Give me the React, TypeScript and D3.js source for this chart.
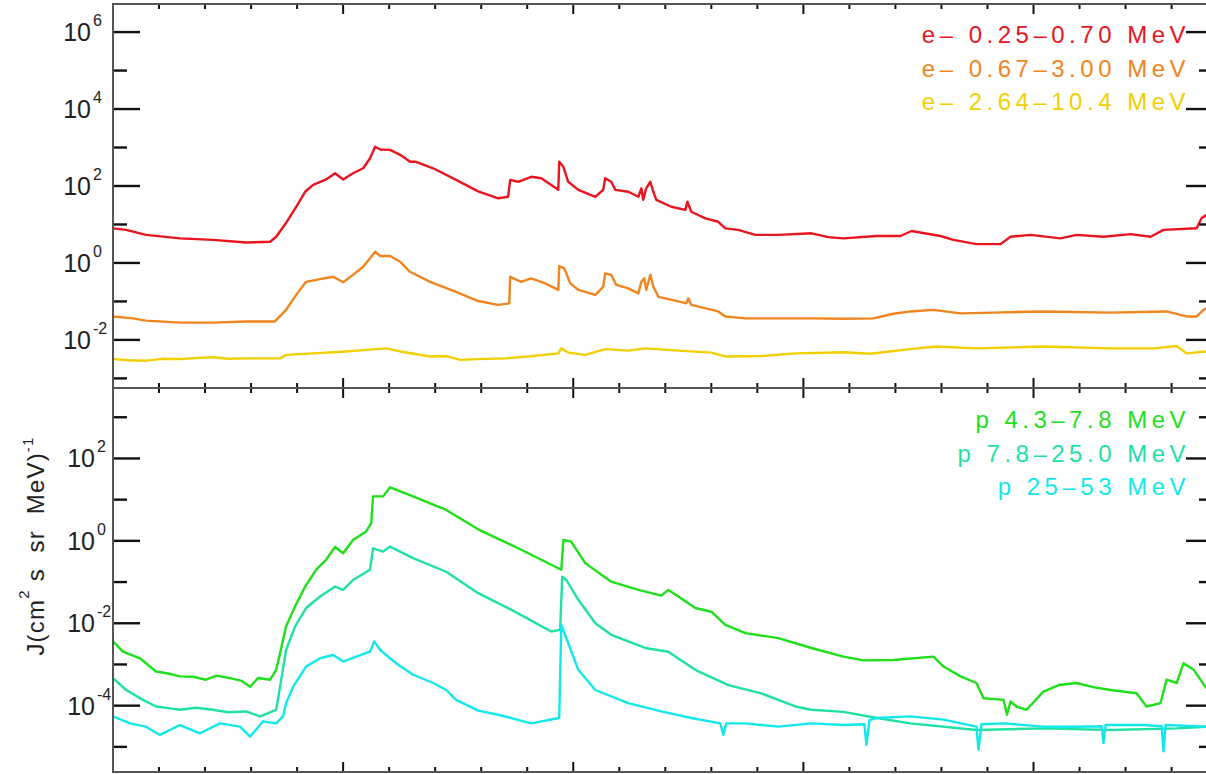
import React, { useRef, useEffect } from 'react';
import * as d3 from 'd3';

// each point: [days since plot start, log10 J]
const eLow: [number, number][] = [
  [0, 0.9], [0.057, 0.86], [0.143, 0.73], [0.291, 0.64], [0.435, 0.6], [0.578, 0.53], [0.683, 0.55],
  [0.709, 0.68], [0.752, 1.04], [0.796, 1.46], [0.835, 1.85], [0.87, 2.03], [0.926, 2.17], [0.965, 2.33],
  [1.0, 2.17], [1.043, 2.33], [1.087, 2.46], [1.117, 2.72], [1.139, 3.02], [1.161, 2.95], [1.204, 2.94],
  [1.248, 2.81], [1.291, 2.63], [1.317, 2.63], [1.391, 2.46], [1.491, 2.16], [1.587, 1.86], [1.674, 1.68],
  [1.717, 1.72], [1.726, 2.16], [1.761, 2.11], [1.817, 2.24], [1.861, 2.2], [1.935, 1.9], [1.939, 2.63],
  [1.957, 2.5], [1.978, 2.11], [2.022, 1.9], [2.096, 1.72], [2.13, 1.9], [2.139, 2.2], [2.165, 2.11],
  [2.183, 1.9], [2.239, 1.85], [2.283, 1.72], [2.296, 1.94], [2.304, 1.64], [2.317, 1.94], [2.335, 2.11],
  [2.348, 1.85], [2.361, 1.64], [2.426, 1.46], [2.487, 1.38], [2.496, 1.59], [2.513, 1.33], [2.574, 1.16],
  [2.63, 1.07], [2.661, 0.9], [2.717, 0.86], [2.791, 0.73], [2.891, 0.73], [3.035, 0.77], [3.109, 0.67],
  [3.174, 0.64], [3.317, 0.7], [3.422, 0.7], [3.47, 0.83], [3.596, 0.7], [3.652, 0.6], [3.752, 0.49],
  [3.857, 0.49], [3.9, 0.68], [3.987, 0.73], [4.117, 0.64], [4.187, 0.73], [4.304, 0.68], [4.422, 0.75],
  [4.509, 0.68], [4.565, 0.86], [4.709, 0.9], [4.73, 1.16], [4.752, 1.25],
];

const eMid: [number, number][] = [
  [0, -1.39], [0.087, -1.44], [0.143, -1.5], [0.291, -1.55], [0.435, -1.55], [0.578, -1.52], [0.704, -1.52],
  [0.752, -1.22], [0.796, -0.83], [0.839, -0.49], [0.9, -0.42], [0.957, -0.36], [1.0, -0.5], [1.043, -0.31],
  [1.087, -0.1], [1.117, 0.12], [1.139, 0.29], [1.161, 0.18], [1.204, 0.18], [1.248, 0.03], [1.291, -0.23],
  [1.378, -0.49], [1.491, -0.75], [1.587, -0.99], [1.674, -1.09], [1.722, -1.05], [1.726, -0.36],
  [1.774, -0.49], [1.817, -0.4], [1.878, -0.53], [1.935, -0.7], [1.939, -0.08], [1.961, -0.14],
  [1.987, -0.53], [2.022, -0.7], [2.096, -0.83], [2.13, -0.62], [2.139, -0.27], [2.165, -0.31],
  [2.187, -0.57], [2.239, -0.66], [2.283, -0.79], [2.296, -0.49], [2.309, -0.4], [2.317, -0.7],
  [2.335, -0.31], [2.348, -0.62], [2.37, -0.88], [2.457, -1.0], [2.491, -1.05], [2.5, -0.92], [2.513, -1.09],
  [2.63, -1.26], [2.661, -1.39], [2.748, -1.44], [2.891, -1.44], [3.035, -1.44], [3.174, -1.45],
  [3.304, -1.44], [3.391, -1.32], [3.465, -1.26], [3.565, -1.22], [3.683, -1.31], [3.826, -1.29],
  [4.043, -1.26], [4.335, -1.29], [4.578, -1.26], [4.665, -1.39], [4.709, -1.39], [4.739, -1.22], [4.752, -1.17],
];

const eHigh: [number, number][] = [
  [0, -2.5], [0.07, -2.53], [0.143, -2.54], [0.22, -2.49], [0.291, -2.5], [0.36, -2.47], [0.435, -2.45],
  [0.5, -2.49], [0.578, -2.48], [0.726, -2.48], [0.752, -2.39], [0.87, -2.35], [1.013, -2.3], [1.1, -2.26],
  [1.187, -2.22], [1.248, -2.3], [1.378, -2.43], [1.448, -2.42], [1.509, -2.52], [1.587, -2.5], [1.704, -2.48],
  [1.804, -2.43], [1.935, -2.35], [1.948, -2.22], [1.978, -2.33], [2.052, -2.39], [2.139, -2.24],
  [2.239, -2.28], [2.313, -2.22], [2.457, -2.28], [2.6, -2.33], [2.661, -2.43], [2.817, -2.42],
  [2.965, -2.35], [3.174, -2.32], [3.291, -2.36], [3.465, -2.24], [3.578, -2.17], [3.752, -2.22],
  [4.043, -2.17], [4.335, -2.22], [4.522, -2.22], [4.622, -2.16], [4.665, -2.35], [4.752, -2.3],
];

const pLow: [number, number][] = [
  [0, -2.44], [0.043, -2.69], [0.117, -2.85], [0.187, -3.17], [0.24, -3.22], [0.291, -3.29], [0.35, -3.3],
  [0.404, -3.37], [0.45, -3.27], [0.509, -3.33], [0.56, -3.4], [0.596, -3.54], [0.63, -3.33], [0.683, -3.37],
  [0.709, -3.13], [0.726, -2.73], [0.752, -2.08], [0.791, -1.59], [0.835, -1.11], [0.883, -0.7],
  [0.926, -0.46], [0.965, -0.15], [1.0, -0.3], [1.043, 0.02], [1.1, 0.23], [1.122, 0.43], [1.13, 1.08],
  [1.174, 1.08], [1.204, 1.3], [1.304, 1.08], [1.448, 0.75], [1.587, 0.28], [1.761, -0.18], [1.948, -0.7],
  [1.957, 0.02], [1.991, -0.02], [2.052, -0.54], [2.165, -0.99], [2.283, -1.19], [2.383, -1.33],
  [2.413, -1.19], [2.457, -1.35], [2.53, -1.63], [2.6, -1.72], [2.661, -2.04], [2.748, -2.24],
  [2.891, -2.36], [3.035, -2.6], [3.174, -2.81], [3.261, -2.9], [3.391, -2.89], [3.565, -2.81],
  [3.609, -3.05], [3.683, -3.29], [3.752, -3.45], [3.783, -3.82], [3.87, -3.86], [3.885, -4.22],
  [3.9, -3.9], [3.926, -4.02], [3.97, -4.1], [4.043, -3.66], [4.11, -3.5], [4.187, -3.45], [4.26, -3.55],
  [4.335, -3.62], [4.448, -3.7], [4.491, -4.02], [4.552, -3.94], [4.578, -3.37], [4.622, -3.45],
  [4.652, -2.97], [4.696, -3.13], [4.752, -3.58],
];

const pMid: [number, number][] = [
  [0, -3.33], [0.057, -3.62], [0.13, -3.86], [0.187, -4.02], [0.24, -4.06], [0.291, -4.1], [0.36, -4.05],
  [0.435, -4.1], [0.5, -4.16], [0.578, -4.14], [0.639, -4.26], [0.709, -4.1], [0.726, -3.54], [0.752, -2.65],
  [0.791, -2.08], [0.839, -1.63], [0.9, -1.35], [0.965, -1.11], [1.0, -1.19], [1.043, -0.95], [1.117, -0.7],
  [1.13, -0.18], [1.174, -0.26], [1.204, -0.14], [1.304, -0.42], [1.448, -0.75], [1.587, -1.27],
  [1.73, -1.67], [1.904, -2.2], [1.943, -2.16], [1.952, -0.87], [1.97, -0.95], [2.022, -1.43],
  [2.096, -2.0], [2.165, -2.28], [2.313, -2.6], [2.413, -2.69], [2.53, -3.13], [2.674, -3.5],
  [2.817, -3.7], [2.965, -4.02], [3.035, -4.1], [3.174, -4.15], [3.32, -4.3], [3.465, -4.43],
  [3.752, -4.59], [4.043, -4.55], [4.335, -4.59], [4.622, -4.55], [4.752, -4.51],
];

const pHigh: [number, number][] = [
  [0, -4.26], [0.074, -4.43], [0.143, -4.51], [0.204, -4.71], [0.291, -4.47], [0.378, -4.67],
  [0.465, -4.43], [0.552, -4.51], [0.596, -4.75], [0.652, -4.38], [0.709, -4.43], [0.739, -4.26],
  [0.752, -3.94], [0.783, -3.54], [0.839, -3.05], [0.9, -2.85], [0.957, -2.77], [1.0, -2.93],
  [1.057, -2.81], [1.117, -2.69], [1.135, -2.44], [1.161, -2.65], [1.23, -2.97], [1.304, -3.25],
  [1.391, -3.45], [1.448, -3.62], [1.491, -3.86], [1.587, -4.12], [1.674, -4.22], [1.817, -4.43],
  [1.939, -4.3], [1.948, -2.04], [1.978, -2.48], [2.022, -3.13], [2.096, -3.62], [2.239, -3.94],
  [2.383, -4.14], [2.513, -4.3], [2.639, -4.43], [2.652, -4.71], [2.665, -4.43], [2.748, -4.43],
  [2.891, -4.51], [3.035, -4.43], [3.174, -4.47], [3.265, -4.45], [3.274, -4.95], [3.287, -4.35],
  [3.317, -4.3], [3.465, -4.26], [3.609, -4.34], [3.752, -4.51], [3.761, -5.07], [3.774, -4.45],
  [3.87, -4.43], [4.043, -4.51], [4.187, -4.51], [4.296, -4.5], [4.304, -4.91], [4.313, -4.47],
  [4.478, -4.47], [4.557, -4.5], [4.565, -5.11], [4.574, -4.47], [4.752, -4.51],
];

const electronLabels = ['e– 0.25–0.70 MeV', 'e– 0.67–3.00 MeV', 'e– 2.64–10.4 MeV'];
const protonLabels = ['p 4.3–7.8 MeV', 'p 7.8–25.0 MeV', 'p 25–53 MeV'];
const electronColors = ['#e8141e', '#f0841e', '#f2cf00'];
const protonColors = ['#1ee01a', '#1fe0a5', '#12e8ec'];

const FONT = '"Liberation Sans", Arial, Helvetica, sans-serif';

const App = () => {
  const svgRef = useRef<SVGSVGElement>(null);

  useEffect(() => {
    const svg = d3.select(svgRef.current);
    svg.selectAll('*').remove();

    const left = 113;
    const right = 1213;
    const x = d3.scaleLinear().domain([0, 4.78]).range([left, right]);

    const panels = [
      { top: 4, bottom: 388, exp: [-3.25, 6.73], series: [eLow, eMid, eHigh], colors: electronColors, labels: electronLabels, legendY: 43, tickLabelX: 91 },
      { top: 388, bottom: 772, exp: [-5.61, 3.71], series: [pLow, pMid, pHigh], colors: protonColors, labels: protonLabels, legendY: 428, tickLabelX: 95 },
    ];

    panels.forEach((p, i) => {
      const y = d3.scaleLog()
        .domain([Math.pow(10, p.exp[0]), Math.pow(10, p.exp[1])])
        .range([p.bottom, p.top]);
      const g = svg.append('g');

      // clip lines to panel
      const clipId = `panel-clip-${i}`;
      svg.append('clipPath').attr('id', clipId)
        .append('rect')
        .attr('x', left).attr('y', p.top)
        .attr('width', right - left).attr('height', p.bottom - p.top);

      const line = d3.line<[number, number]>()
        .x(d => x(d[0]))
        .y(d => y(Math.pow(10, d[1])));

      p.series.forEach((s, k) => {
        g.append('path')
          .datum(s)
          .attr('d', line)
          .attr('fill', 'none')
          .attr('stroke', p.colors[k])
          .attr('stroke-width', 2.4)
          .attr('stroke-linejoin', 'round')
          .attr('clip-path', `url(#${clipId})`);
      });

      // y ticks on both sides, labels on even decades
      const exps = d3.range(Math.ceil(p.exp[0]), Math.floor(p.exp[1]) + 1);
      exps.forEach(e => {
        const yy = y(Math.pow(10, e));
        const major = e % 2 === 0;
        const len = major ? 27 : 14;
        g.append('line').attr('x1', left).attr('x2', left + len).attr('y1', yy).attr('y2', yy)
          .attr('stroke', '#111').attr('stroke-width', 2.4);
        g.append('line').attr('x1', right - len).attr('x2', right).attr('y1', yy).attr('y2', yy)
          .attr('stroke', '#111').attr('stroke-width', 2.4);
        if (major) {
          g.append('text')
            .attr('x', p.tickLabelX).attr('y', yy + 9)
            .attr('text-anchor', 'end')
            .attr('font-family', FONT).attr('font-size', 25).attr('fill', '#222')
            .text('10');
          g.append('text')
            .attr('x', p.tickLabelX + 2).attr('y', yy - 6)
            .attr('font-family', FONT).attr('font-size', 16).attr('fill', '#222')
            .text(String(e));
        }
      });

      // x ticks on top and bottom of each panel
      d3.range(0, 24).forEach(k => {
        const xx = x(k * 0.2);
        const len = k % 5 === 0 ? 10 : 5;
        g.append('line').attr('x1', xx).attr('x2', xx).attr('y1', p.top).attr('y2', p.top + len)
          .attr('stroke', '#111').attr('stroke-width', 2);
        g.append('line').attr('x1', xx).attr('x2', xx).attr('y1', p.bottom - len).attr('y2', p.bottom)
          .attr('stroke', '#111').attr('stroke-width', 2);
      });

      // frame
      g.append('rect')
        .attr('x', left).attr('y', p.top)
        .attr('width', right - left).attr('height', p.bottom - p.top)
        .attr('fill', 'none').attr('stroke', '#555').attr('stroke-width', 2);

      // legend
      p.labels.forEach((lab, k) => {
        g.append('text')
          .attr('x', 1190).attr('y', p.legendY + k * 33.5)
          .attr('text-anchor', 'end')
          .attr('font-family', FONT).attr('font-size', 24)
          .attr('letter-spacing', 4.5)
          .attr('fill', p.colors[k])
          .text(lab);
      });
    });

    // y axis title
    const title = svg.append('text')
      .attr('transform', 'translate(44,546) rotate(-90)')
      .attr('text-anchor', 'middle')
      .attr('font-family', FONT).attr('font-size', 24).attr('fill', '#222')
      .attr('letter-spacing', 1.2)
      .style('white-space', 'pre');
    title.append('tspan').text('J(cm');
    title.append('tspan').attr('font-size', 15).attr('dy', -15).text('2');
    title.append('tspan').attr('dy', 15).text(' s  sr  MeV)');
    title.append('tspan').attr('font-size', 15).attr('dy', -11).text('-1');
  }, []);

  return (
    <svg
      ref={svgRef}
      width={1206}
      height={774}
      style={{ position: 'absolute', left: 0, top: 0, background: '#fff' }}
    />
  );
};

export default App;
